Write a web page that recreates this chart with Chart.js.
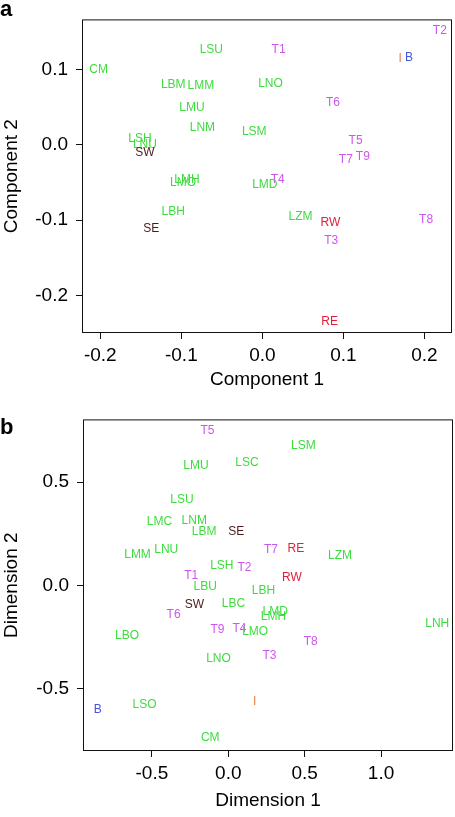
<!DOCTYPE html>
<html><head><meta charset="utf-8">
<script src="https://cdn.jsdelivr.net/npm/chart.js@4"></script>
<style>
html,body{margin:0;padding:0;background:#fff;width:455px;height:817px;overflow:hidden;}
canvas{position:absolute;left:0;}
#ca{top:0}
#cb{top:400px}
.pl{position:absolute;font:bold 22px "Liberation Sans",Arial,sans-serif;left:0;color:#000;line-height:1}
</style></head><body>
<canvas id="ca" width="455" height="400"></canvas>
<canvas id="cb" width="455" height="417"></canvas>
<div class="pl" style="top:-2px">a</div>
<div class="pl" style="top:416px">b</div>
<script>
// ---- Panel a data ----
const labelsA = ['CM','LSU','LBM','LMM','LMU','LNM','LSH','LNU','SW','LMH','LMO','LBH','SE','T2','T1','I','B','LNO','T6','LSM','T5','T7','T9','T4','LMD','LZM','RW','T3','T8','RE'];
const xA = [-0.202,-0.063,-0.110,-0.076,-0.087,-0.074,-0.151,-0.145,-0.145,-0.093,-0.098,-0.110,-0.137,0.219,0.020,0.170,0.181,0.010,0.087,-0.010,0.115,0.103,0.124,0.019,0.003,0.047,0.084,0.085,0.202,0.083];
const yA = [0.100,0.126,0.080,0.078,0.049,0.023,0.008,0.000,-0.011,-0.047,-0.051,-0.089,-0.111,0.152,0.126,0.114,0.115,0.081,0.056,0.017,0.005,-0.020,-0.016,-0.046,-0.053,-0.096,-0.104,-0.127,-0.099,-0.235];
const xTicksA = [-0.2,-0.1,0.0,0.1,0.2];
const yTicksA = [-0.2,-0.1,0.0,0.1];

// ---- Panel b data ----
const labelsB = ['T5','LMU','LSC','LSM','LSU','LMC','LNM','LBM','SE','LMM','LNU','LSH','T2','T7','RE','LZM','RW','LBH','T1','LBU','LBC','SW','T6','LMD','LMH','LNH','LBO','T9','T4','LMO','T8','LNO','T3','I','LSO','B','CM'];
const xB = [-0.136,-0.212,0.122,0.492,-0.303,-0.450,-0.223,-0.158,0.052,-0.594,-0.406,-0.042,0.106,0.279,0.442,0.732,0.416,0.230,-0.243,-0.151,0.034,-0.221,-0.358,0.307,0.296,1.368,-0.663,-0.071,0.073,0.176,0.540,-0.064,0.270,0.172,-0.548,-0.855,-0.118];
const yB = [0.747,0.581,0.594,0.678,0.416,0.306,0.315,0.258,0.258,0.150,0.174,0.093,0.084,0.174,0.178,0.142,0.035,-0.024,0.048,-0.008,-0.089,-0.092,-0.140,-0.129,-0.153,-0.185,-0.242,-0.215,-0.210,-0.226,-0.274,-0.355,-0.339,-0.565,-0.576,-0.602,-0.739];
const xTicksB = [-0.5,0.0,0.5,1.0];
const yTicksB = [-0.5,0.0,0.5];

const FAMILY = '"Liberation Sans", Arial, Helvetica, sans-serif';
function colorFor(lab){
  if (lab === 'B') return '#4455dd';
  if (lab === 'I') return '#e8824a';
  if (lab === 'RE' || lab === 'RW') return '#e0203a';
  if (lab === 'SE' || lab === 'SW') return '#4a1a1a';
  if (lab[0] === 'T') return '#cc55ee';
  return '#3ddc3d';
}

const textLabels = {
  id: 'textLabels',
  afterDatasetsDraw(chart){
    const ctx = chart.ctx;
    const meta = chart.getDatasetMeta(0);
    const labs = chart.data.datasets[0].pointLabels;
    ctx.save();
    ctx.font = '12px ' + FAMILY;
    ctx.textAlign = 'center';
    ctx.textBaseline = 'middle';
    meta.data.forEach((pt, i) => {
      ctx.fillStyle = colorFor(labs[i]);
      ctx.fillText(labs[i], pt.x, pt.y);
    });
    ctx.restore();
  }
};
const boxPlugin = {
  id: 'boxPlugin',
  afterDraw(chart){
    const a = chart.chartArea, ctx = chart.ctx;
    ctx.save();
    ctx.strokeStyle = '#111';
    ctx.lineWidth = 1;
    ctx.strokeRect(a.left + 0.5, a.top + 0.5, a.right - a.left - 1, a.bottom - a.top - 1);
    ctx.restore();
  }
};

function makeChart(id, labels, xs, ys, xr, yr, xt, yt, xTitle, yTitle, pad, yW, xH, xTitlePad){
  const data = xs.map((x, i) => ({x: x, y: ys[i]}));
  const tickFont = {family: FAMILY, size: 19};
  return new Chart(document.getElementById(id), {
    type: 'scatter',
    data: {datasets: [{data: data, pointRadius: 0, pointHoverRadius: 0, pointLabels: labels}]},
    plugins: [textLabels, boxPlugin],
    options: {
      responsive: false, animation: false, devicePixelRatio: 1,
      events: [],
      layout: {padding: pad},
      plugins: {legend: {display: false}, tooltip: {enabled: false}},
      scales: {
        x: {
          type: 'linear', min: xr[0], max: xr[1],
          afterBuildTicks: s => { s.ticks = xt.map(v => ({value: v})); },
          afterFit: s => { s.height = xH; },
          ticks: {callback: v => Number(v).toFixed(1), font: tickFont, color: '#000', padding: 5, maxRotation: 0, autoSkip: false},
          grid: {drawOnChartArea: false, drawTicks: true, tickLength: 6, color: '#111', lineWidth: 1},
          border: {display: false},
          title: {display: true, text: xTitle, color: '#000', font: {family: FAMILY, size: 19, lineHeight: 1.2}, padding: {top: 0, bottom: xTitlePad}}
        },
        y: {
          type: 'linear', min: yr[0], max: yr[1],
          afterBuildTicks: s => { s.ticks = yt.map(v => ({value: v})); },
          afterFit: s => { s.width = yW; },
          ticks: {callback: v => Number(v).toFixed(1), font: tickFont, color: '#000', padding: 8, autoSkip: false},
          grid: {drawOnChartArea: false, drawTicks: true, tickLength: 6, color: '#111', lineWidth: 1},
          border: {display: false},
          title: {display: true, text: yTitle, color: '#000', font: {family: FAMILY, size: 19, lineHeight: 1.2}, padding: {top: 0, bottom: 0}}
        }
      }
    }
  });
}

makeChart('ca', labelsA, xA, yA, [-0.2226, 0.234], [-0.25, 0.1664], xTicksA, yTicksA,
  'Component 1', 'Component 2', {top: 2, right: 3, left: 0, bottom: 0}, 82, 67, 8.6);
makeChart('cb', labelsB, xB, yB, [-0.951, 1.471], [-0.802, 0.8035], xTicksB, yTicksB,
  'Dimension 1', 'Dimension 2', {top: 19, right: 2, left: 0, bottom: 0}, 83, 66, 4.6);
</script>
</body></html>
